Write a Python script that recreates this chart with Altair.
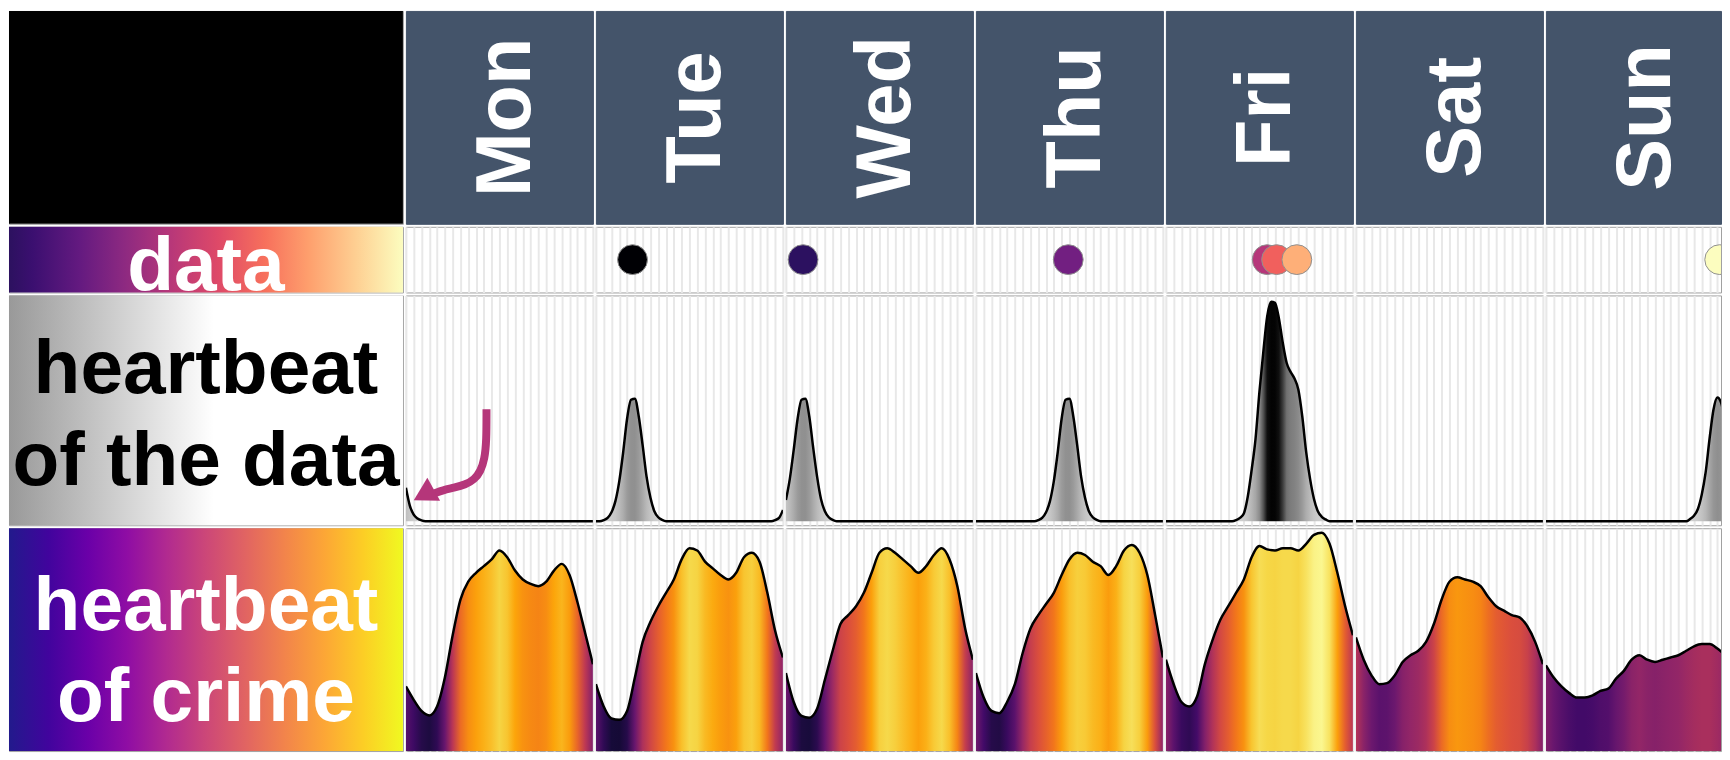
import altair as alt
import pandas as pd

# ---------------------------------------------------------------- data
DAYS = ["Mon", "Tue", "Wed", "Thu", "Fri", "Sat", "Sun"]

# heartbeat of crime: height of the weekly crime density, one value per hour (0..24)
crime_mon = [0.29, 0.23, 0.18, 0.16, 0.20, 0.33, 0.52, 0.68, 0.76, 0.80, 0.83, 0.86, 0.90,
             0.87, 0.81, 0.77, 0.75, 0.74, 0.76, 0.81, 0.84, 0.79, 0.67, 0.53, 0.39]
crime_tue = [0.30, 0.20, 0.146, 0.14, 0.18, 0.33, 0.49, 0.58, 0.65, 0.71, 0.77, 0.86, 0.91,
             0.90, 0.85, 0.82, 0.79, 0.77, 0.80, 0.87, 0.89, 0.85, 0.71, 0.54, 0.42]
crime_wed = [0.35, 0.22, 0.158, 0.15, 0.19, 0.32, 0.45, 0.57, 0.61, 0.65, 0.71, 0.80, 0.89,
             0.91, 0.89, 0.86, 0.83, 0.80, 0.83, 0.88, 0.91, 0.86, 0.74, 0.55, 0.41]
crime_thu = [0.35, 0.24, 0.18, 0.17, 0.22, 0.30, 0.44, 0.55, 0.61, 0.66, 0.71, 0.79, 0.86,
             0.89, 0.88, 0.85, 0.83, 0.79, 0.83, 0.90, 0.925, 0.89, 0.79, 0.61, 0.42]
crime_fri = [0.41, 0.30, 0.22, 0.20, 0.245, 0.39, 0.50, 0.59, 0.65, 0.71, 0.77, 0.87, 0.92,
             0.905, 0.90, 0.91, 0.91, 0.90, 0.93, 0.97, 0.98, 0.93, 0.80, 0.65, 0.52]
crime_sat = [0.51, 0.41, 0.34, 0.30, 0.305, 0.34, 0.40, 0.43, 0.45, 0.49, 0.57, 0.68, 0.76,
             0.78, 0.77, 0.76, 0.74, 0.69, 0.65, 0.63, 0.61, 0.60, 0.56, 0.49, 0.39]
crime_sun = [0.385, 0.33, 0.29, 0.26, 0.24, 0.24, 0.25, 0.27, 0.28, 0.325, 0.36, 0.41, 0.43,
             0.41, 0.40, 0.41, 0.42, 0.43, 0.45, 0.47, 0.48, 0.48, 0.46, 0.43]

# heartbeat of the data: density of the records, half-hour steps (non-zero values only)
pulse_mon = {0.0: 0.15, 0.5: 0.07, 1.0: 0.03, 1.5: 0.012, 2.0: 0.004}
pulse_tue = {1.0: 0.005, 1.5: 0.015, 2.0: 0.04, 2.5: 0.09, 3.0: 0.18, 3.5: 0.31, 4.0: 0.46,
             4.5: 0.545, 5.0: 0.55, 5.5: 0.47, 6.0: 0.34, 6.5: 0.20, 7.0: 0.105, 7.5: 0.045,
             8.0: 0.018, 8.5: 0.006, 23.0: 0.005, 23.5: 0.015, 24.0: 0.05}
pulse_wed = {0.0: 0.095, 0.5: 0.19, 1.0: 0.32, 1.5: 0.46, 2.0: 0.545, 2.5: 0.55, 3.0: 0.47,
             3.5: 0.33, 4.0: 0.20, 4.5: 0.10, 5.0: 0.045, 5.5: 0.018, 6.0: 0.006}
pulse_thu = {8.0: 0.005, 8.5: 0.015, 9.0: 0.04, 9.5: 0.09, 10.0: 0.18, 10.5: 0.31, 11.0: 0.46,
             11.5: 0.545, 12.0: 0.55, 12.5: 0.47, 13.0: 0.34, 13.5: 0.20, 14.0: 0.105,
             14.5: 0.045, 15.0: 0.018, 15.5: 0.006}
pulse_fri = {9.0: 0.005, 9.5: 0.015, 10.0: 0.035, 10.5: 0.11, 11.0: 0.23, 11.5: 0.37,
             12.0: 0.58, 12.5: 0.76, 13.0: 0.92, 13.5: 0.985, 14.0: 0.98, 14.5: 0.91,
             15.0: 0.80, 15.5: 0.71, 16.0: 0.67, 16.5: 0.64, 17.0: 0.59, 17.5: 0.47,
             18.0: 0.31, 18.5: 0.19, 19.0: 0.10, 19.5: 0.045, 20.0: 0.02, 20.5: 0.008}
pulse_sat = {}
pulse_sun = {18.5: 0.01, 19.0: 0.025, 19.5: 0.055, 20.0: 0.12, 20.5: 0.22, 21.0: 0.37,
             21.5: 0.50, 22.0: 0.555, 22.5: 0.53, 23.0: 0.44}

# the records themselves: day, hour, and their order in time (colour)
event_day = ["Tue", "Wed", "Thu", "Fri", "Fri", "Fri", "Sun"]
event_hour = [4.7, 2.2, 11.85, 13.0, 14.2, 16.8, 22.3]
event_rank = [0, 1, 2, 3, 4, 5, 6]

# annotation arrow in the Monday panel (hour, density)
arrow_hour = [10.34, 10.34, 10.09, 9.58, 8.81, 7.66, 6.13, 4.73, 3.70]
arrow_value = [0.502, 0.359, 0.278, 0.224, 0.188, 0.164, 0.150, 0.139, 0.126]
arrow_tip_hour = [2.29]
arrow_tip_value = [0.119]

label_data = "data"
label_pulse = ["heartbeat", "of the data"]
label_crime = ["heartbeat", "of crime"]

CRIME = dict(zip(DAYS, [crime_mon, crime_tue, crime_wed, crime_thu, crime_fri, crime_sat, crime_sun]))
PULSE = dict(zip(DAYS, [pulse_mon, pulse_tue, pulse_wed, pulse_thu, pulse_fri, pulse_sat, pulse_sun]))

# ---------------------------------------------------------------- style
FONT = "Liberation Sans"
SLATE = "#44546a"
GRID = "#e8e8e8"
FRAME = "#a0a0a0"
ARROW = "#b5367a"
LABEL_W, DAY_W, SUN_W, GAP = 396, 188, 176, 3
HEADER_H, DATA_H, PULSE_H, CRIME_H = 214, 66, 231, 224

INFERNO = ["#000004", "#160b39", "#420a68", "#6a176e", "#932667", "#bc3754",
           "#dd513a", "#f37819", "#fca50a", "#f6d746", "#fcffa4"]
INFERNO_STOPS = [(i / 10, c) for i, c in enumerate(INFERNO)]
GRAY_STOPS = [(0.0, "#d0d0d0"), (0.35, "#a8a8a8"), (0.6, "#8a8a8a"), (0.7, "#767676"),
              (0.8, "#3c3c3c"), (0.9, "#121212"), (1.0, "#000000")]
MAGMA_BG = [(0.0, "#2c115f"), (0.06, "#3b0f70"), (0.18, "#641a80"), (0.29, "#8c2981"),
            (0.41, "#b73779"), (0.53, "#de4968"), (0.65, "#f7705c"), (0.76, "#fe9f6d"),
            (0.88, "#fecf92"), (1.0, "#fcfdbf")]
GRAY_BG = [(0.0, "#999999"), (0.52, "#ffffff"), (1.0, "#ffffff")]
PLASMA_BG = [(0.0, "#221a8c"), (0.1, "#41049d"), (0.2, "#6a00a8"), (0.3, "#8f0da4"),
             (0.4, "#b12a90"), (0.5, "#cc4778"), (0.6, "#e16462"), (0.7, "#f2844b"),
             (0.8, "#fca636"), (0.9, "#fcce25"), (1.0, "#f0f921")]


def _rgb(h):
    return tuple(int(h[i:i + 2], 16) for i in (1, 3, 5))


def ramp(stops, t):
    t = max(0.0, min(1.0, t))
    for (p0, c0), (p1, c1) in zip(stops, stops[1:]):
        if t <= p1:
            f = 0.0 if p1 == p0 else (t - p0) / (p1 - p0)
            a, b = _rgb(c0), _rgb(c1)
            return "#%02x%02x%02x" % tuple(round(x + (y - x) * f) for x, y in zip(a, b))
    return stops[-1][1]


def h_gradient(stops):
    return {"gradient": "linear", "x1": 0, "y1": 0, "x2": 1, "y2": 0,
            "stops": [{"offset": round(o, 4), "color": c} for o, c in stops]}


def width_of(day):
    return SUN_W if day == "Sun" else DAY_W


def span_of(day):
    return 24.0 * width_of(day) / DAY_W


def x_enc(day, grid=True):
    top = span_of(day)
    if not grid:
        return alt.X("hour:Q", scale=alt.Scale(domain=[0, top], nice=False, zero=False), axis=None)
    ticks = [h for h in range(25) if h <= top]
    return alt.X("hour:Q", scale=alt.Scale(domain=[0, top], nice=False, zero=False),
                 axis=alt.Axis(values=ticks, grid=True, gridColor=GRID, gridWidth=2,
                               labels=False, ticks=False, domain=False, title=None, minExtent=0))


one = pd.DataFrame({"cell": [0]})


def full_rect(color):
    return alt.Chart(one).mark_rect(color=color).encode(
        x=alt.value(0), x2=alt.value("width"), y=alt.value(0), y2=alt.value("height"))


def label_cell(height, stops, lines, color, dy):
    bg = full_rect(h_gradient(stops))
    txt = alt.Chart(one).mark_text(font=FONT, fontSize=77, fontWeight="bold", color=color,
                                   align="center", baseline="middle", lineHeight=92, dy=dy
                                   ).encode(text=alt.value(lines))
    return alt.layer(bg, txt).properties(width=LABEL_W, height=height)


# ---------------------------------------------------------------- header row
header_cells = [full_rect("black").properties(width=LABEL_W, height=HEADER_H)]
for d in DAYS:
    df = pd.DataFrame({"day": [d], "hour": [12]})
    header_cells.append(
        alt.Chart(df).mark_text(angle=270, font=FONT, fontSize=78, fontWeight="bold",
                                color="white", align="center", baseline="middle", dy=8)
        .encode(x=x_enc(d, grid=False), text="day:N")
        .properties(width=width_of(d), height=HEADER_H,
                    view=alt.ViewBackground(fill=SLATE, stroke=SLATE))
    )

# ---------------------------------------------------------------- data row
events = pd.DataFrame({"day": event_day, "hour": event_hour, "rank": event_rank})
data_cells = [label_cell(DATA_H, MAGMA_BG, label_data, "white", 8)]
for d in DAYS:
    data_cells.append(
        alt.Chart(events).transform_filter(alt.datum.day == d)
        .mark_circle(size=900, opacity=1, stroke="#8f8f8f", strokeWidth=1, clip=True)
        .encode(x=x_enc(d),
                color=alt.Color("rank:Q", scale=alt.Scale(scheme="magma", domain=[0, 6]), legend=None))
        .properties(width=width_of(d), height=DATA_H)
    )

# ---------------------------------------------------------------- heartbeat of the data
PULSE_Y = alt.Scale(domain=[-0.018, 1.013], nice=False, zero=False)
pulse_cells = [label_cell(PULSE_H, GRAY_BG, label_pulse, "black", -40)]
for d in DAYS:
    last = 23.0 if d == "Sun" else 24.0
    hours = [i / 2 for i in range(int(last * 2) + 1)]
    vals = [PULSE[d].get(h, 0.0) for h in hours]
    df = pd.DataFrame({"hour": hours, "value": vals})
    grad = h_gradient([(h / last, ramp(GRAY_STOPS, v)) for h, v in zip(hours, vals)])
    y = alt.Y("value:Q", scale=PULSE_Y, axis=None)
    layers = [
        alt.Chart(df).mark_area(color=grad, interpolate="monotone", clip=True)
        .encode(x=x_enc(d), y=y, y2=alt.datum(0)),
        alt.Chart(df).mark_line(color="black", strokeWidth=2.5, interpolate="monotone", clip=True)
        .encode(x=x_enc(d), y=y),
    ]
    if d == "Mon":
        adf = pd.DataFrame({"hour": arrow_hour, "value": arrow_value,
                            "step": list(range(len(arrow_hour)))})
        tdf = pd.DataFrame({"hour": arrow_tip_hour, "value": arrow_tip_value})
        layers.append(alt.Chart(adf).mark_line(color=ARROW, strokeWidth=8, interpolate="basis",
                                               strokeCap="butt")
                      .encode(x=x_enc(d), y=y, order="step:Q"))
        layers.append(alt.Chart(tdf).mark_point(shape="triangle-left", filled=True, size=700,
                                                angle=331, color=ARROW, opacity=1)
                      .encode(x=x_enc(d), y=y))
    pulse_cells.append(alt.layer(*layers).properties(width=width_of(d), height=PULSE_H))

# ---------------------------------------------------------------- heartbeat of crime
CRIME_Y = alt.Scale(domain=[0, 1], nice=False, zero=False)
crime_cells = [label_cell(CRIME_H, PLASMA_BG, label_crime, "white", -33)]
for d in DAYS:
    vals = CRIME[d]
    hours = list(range(len(vals)))
    last = hours[-1]
    df = pd.DataFrame({"hour": hours, "value": vals})
    grad = h_gradient([(h / last, ramp(INFERNO_STOPS, (v - 0.05) / 0.95)) for h, v in zip(hours, vals)])
    y = alt.Y("value:Q", scale=CRIME_Y, axis=None)
    crime_cells.append(alt.layer(
        alt.Chart(df).mark_area(color=grad, interpolate="monotone", clip=True)
        .encode(x=x_enc(d), y=y, y2=alt.datum(0)),
        alt.Chart(df).mark_line(color="black", strokeWidth=2.5, interpolate="monotone", clip=True)
        .encode(x=x_enc(d), y=y),
    ).properties(width=width_of(d), height=CRIME_H))

# ---------------------------------------------------------------- assemble (8 x 4 grid)
cells = header_cells + data_cells + pulse_cells + crime_cells
chart = (alt.concat(*cells, columns=8, spacing=GAP, bounds="flush", align="each")
         .properties(padding=0)
         .configure_view(stroke=FRAME, strokeWidth=1))

chart.save("out.html", embed_options={"renderer": "svg", "actions": False})
